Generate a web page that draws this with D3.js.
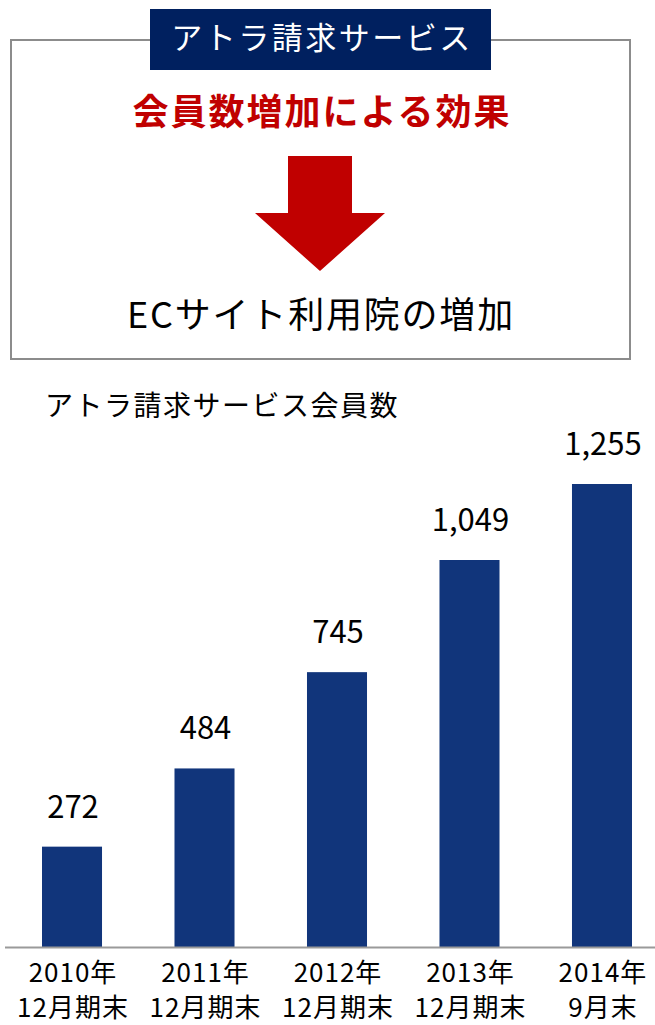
<!DOCTYPE html>
<html lang="ja">
<head>
<meta charset="UTF-8">
<title>アトラ請求サービス会員数</title>
<script src="https://d3js.org/d3.v7.min.js"></script>
<style>
  body { margin: 0; background: #fff; }
  text { font-family: 'Noto Sans CJK JP', 'Noto Sans', sans-serif; }
</style>
</head>
<body>
<div id="chart"></div>
<script>
// data
var years = ["2010年", "2011年", "2012年", "2013年", "2014年"];
var periods = ["12月期末", "12月期末", "12月期末", "12月期末", "9月末"];
var members = [272, 484, 745, 1049, 1255];

var svg = d3.select("#chart")
  .append("svg")
  .attr("width", 655)
  .attr("height", 1025);

// top box
svg.append("rect")
  .attr("x", 11).attr("y", 40)
  .attr("width", 619).attr("height", 319)
  .attr("fill", "none")
  .attr("stroke", "#8c8c8c")
  .attr("stroke-width", 2);

svg.append("rect")
  .attr("x", 150).attr("y", 9)
  .attr("width", 341).attr("height", 61)
  .attr("fill", "#00205f");

svg.append("text")
  .attr("x", 322).attr("y", 49)
  .attr("text-anchor", "middle")
  .attr("fill", "#fff")
  .style("font-size", "31px")
  .style("letter-spacing", "2.5px")
  .text("アトラ請求サービス");

svg.append("text")
  .attr("x", 322).attr("y", 125)
  .attr("text-anchor", "middle")
  .attr("fill", "#c00000")
  .style("font-size", "36px")
  .style("font-weight", "700")
  .style("letter-spacing", "2px")
  .text("会員数増加による効果");

// arrow
svg.append("path")
  .attr("d", "M288,156 L352,156 L352,213 L385,213 L320,271 L255,213 L288,213 Z")
  .attr("fill", "#c00000");

svg.append("text")
  .attr("x", 321).attr("y", 328)
  .attr("text-anchor", "middle")
  .attr("fill", "#000")
  .style("font-size", "36px")
  .style("letter-spacing", "1.8px")
  .text("ECサイト利用院の増加");

// chart
svg.append("text")
  .attr("x", 45).attr("y", 416)
  .attr("fill", "#000")
  .style("font-size", "28px")
  .style("letter-spacing", "1.5px")
  .text("アトラ請求サービス会員数");

var xScale = d3.scaleBand()
  .domain(years)
  .range([42, 632])
  .paddingInner(0.547)
  .paddingOuter(0);

var yScale = d3.scaleLinear()
  .domain([0, 1255])
  .range([947, 484]);

svg.selectAll(".bar")
  .data(members)
  .enter().append("rect")
  .attr("class", "bar")
  .attr("x", function(d, i) { return xScale(years[i]); })
  .attr("y", function(d) { return yScale(d); })
  .attr("width", xScale.bandwidth())
  .attr("height", function(d) { return yScale(0) - yScale(d); })
  .attr("fill", "#11357b");

svg.selectAll(".val")
  .data(members)
  .enter().append("text")
  .attr("class", "val")
  .attr("x", function(d, i) { return xScale(years[i]) + xScale.bandwidth() / 2 + 1; })
  .attr("y", function(d) { return yScale(d) - 29; })
  .attr("text-anchor", "middle")
  .attr("fill", "#000")
  .style("font-size", "31px")
  .text(function(d) { return d3.format(",")(d); });

svg.append("line")
  .attr("x1", 5).attr("x2", 655)
  .attr("y1", yScale(0) + 0.5).attr("y2", yScale(0) + 0.5)
  .attr("stroke", "#9a9a9a")
  .attr("stroke-width", 2);

var lbl = svg.selectAll(".xlab")
  .data(years)
  .enter().append("text")
  .attr("class", "xlab")
  .attr("text-anchor", "middle")
  .attr("fill", "#000")
  .style("font-size", "26px")
  .style("letter-spacing", "1px");

lbl.append("tspan")
  .attr("x", function(d) { return xScale(d) + xScale.bandwidth() / 2 + 1; })
  .attr("y", 982)
  .text(function(d) { return d; });

lbl.append("tspan")
  .attr("x", function(d) { return xScale(d) + xScale.bandwidth() / 2 + 1; })
  .attr("y", 1017)
  .text(function(d, i) { return periods[i]; });
</script>
</body>
</html>
